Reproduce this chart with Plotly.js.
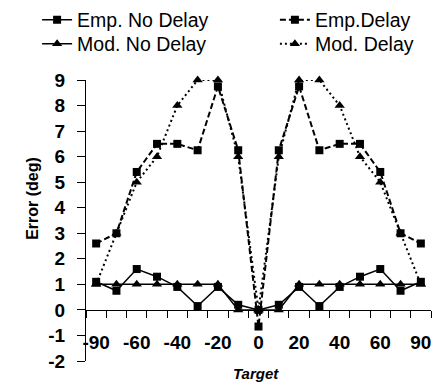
<!DOCTYPE html>
<html>
<head>
<meta charset="utf-8">
<script src="https://cdn.plot.ly/plotly-3.0.1.min.js"></script>
<style>html,body{margin:0;padding:0;background:#fff}#chart{width:447px;height:387px}</style>
</head>
<body>
<div id="chart"></div>
<script>
var categories = ["-90","-75","-60","-50","-40","-30","-20","-10","0","10","20","30","40","50","60","75","90"];
var labeledTicks = ["-90","-60","-40","-20","0","20","40","60","90"];
var empNoDelay = [1.1, 0.75, 1.6, 1.3, 0.9, 0.15, 0.9, 0.2, 0, 0.2, 0.9, 0.15, 0.9, 1.3, 1.6, 0.75, 1.1];
var modNoDelay = [1, 1, 1, 1, 1, 1, 1, 0, 0, 0, 1, 1, 1, 1, 1, 1, 1];
var empDelay = [2.6, 3.0, 5.4, 6.5, 6.5, 6.25, 8.75, 6.25, -0.65, 6.25, 8.75, 6.25, 6.5, 6.5, 5.4, 3.0, 2.6];
var modDelay = [1, 3, 5, 6, 8, 9, 9, 6, 0, 6, 9, 9, 8, 6, 5, 3, 1];
var yTicks = [-2,-1,0,1,2,3,4,5,6,7,8,9];
var xTitle = "Target";
var yTitle = "Error (deg)";

var FONT = "Arial, 'Liberation Sans', sans-serif";
var traces = [
  {name: "Emp. No Delay", x: categories, y: empNoDelay, type: "scatter", mode: "lines+markers", cliponaxis: false,
   line: {color: "#000", width: 1.5}, marker: {symbol: "square", size: 8, color: "#000"}, legend: "legend"},
  {name: "Mod. No Delay", x: categories, y: modNoDelay, type: "scatter", mode: "lines+markers", cliponaxis: false,
   line: {color: "#000", width: 1.5}, marker: {symbol: "triangle-up", size: 9, color: "#000"}, legend: "legend3"},
  {name: "Emp.Delay", x: categories, y: empDelay, type: "scatter", mode: "lines+markers", cliponaxis: false,
   line: {color: "#000", width: 2, dash: "6px,3px"}, marker: {symbol: "square", size: 8, color: "#000"}, legend: "legend2"},
  {name: "Mod. Delay", x: categories, y: modDelay, type: "scatter", mode: "lines+markers", cliponaxis: false,
   line: {color: "#000", width: 2, dash: "2px,3px"}, marker: {symbol: "triangle-up", size: 9, color: "#000"}, legend: "legend4"}
];

var yMin = -2, yMax = 9;
var axisPos = (0 - yMin) / (yMax - yMin);
function legendAt(x, y) {
  return {
    orientation: "v", xref: "container", yref: "container",
    x: x, y: y, xanchor: "left", yanchor: "middle",
    font: {family: FONT, size: 19.5, color: "#000"}, bgcolor: "rgba(0,0,0,0)",
    tracegroupgap: 0, itemwidth: 30
  };
}
var layout = {
  width: 447, height: 387,
  margin: {l: 86, r: 16, t: 80, b: 26, autoexpand: false},
  paper_bgcolor: "#fff", plot_bgcolor: "#fff",
  font: {family: FONT, color: "#000"},
  showlegend: true,
  xaxis: {
    type: "category", range: [-0.5, categories.length - 0.5],
    anchor: "free", position: axisPos, automargin: false,
    tickmode: "array", tickvals: categories,
    ticktext: categories.map(function (c) { return labeledTicks.indexOf(c) >= 0 ? c : ""; }),
    tickangle: 0,
    tickson: "boundaries", ticks: "outside", ticklen: 7, tickcolor: "#000", tickwidth: 1,
    ticklabelstandoff: 15,
    showline: true, linecolor: "#000", linewidth: 1,
    showgrid: false, zeroline: false,
    tickfont: {family: FONT, size: 19, color: "#000", weight: "bold"}
  },
  yaxis: {
    range: [yMin, yMax], tickmode: "array", tickvals: yTicks, ticktext: yTicks.map(String),
    automargin: false,
    ticks: "outside", ticklen: 8, tickcolor: "#000", tickwidth: 1,
    ticklabelstandoff: 8,
    showline: true, linecolor: "#000", linewidth: 1,
    showgrid: false, zeroline: false,
    tickfont: {family: FONT, size: 19, color: "#000", weight: "bold"}
  },
  legend: legendAt(0.083, 0.948),
  legend2: legendAt(0.615, 0.948),
  legend3: legendAt(0.083, 0.886),
  legend4: legendAt(0.615, 0.886),
  annotations: [
    {text: "<b><i>" + xTitle + "</i></b>", xref: "paper", yref: "paper", x: 0.493, y: -0.046,
     xanchor: "center", yanchor: "middle", showarrow: false, font: {family: FONT, size: 15, color: "#000"}},
    {text: "<b>" + yTitle + "</b>", xref: "paper", yref: "paper", x: -0.157, y: 0.58, textangle: -90,
     xanchor: "center", yanchor: "middle", showarrow: false, font: {family: FONT, size: 16, color: "#000"}}
  ]
};

Plotly.newPlot("chart", traces, layout, {displayModeBar: false, staticPlot: true});
</script>
</body>
</html>
